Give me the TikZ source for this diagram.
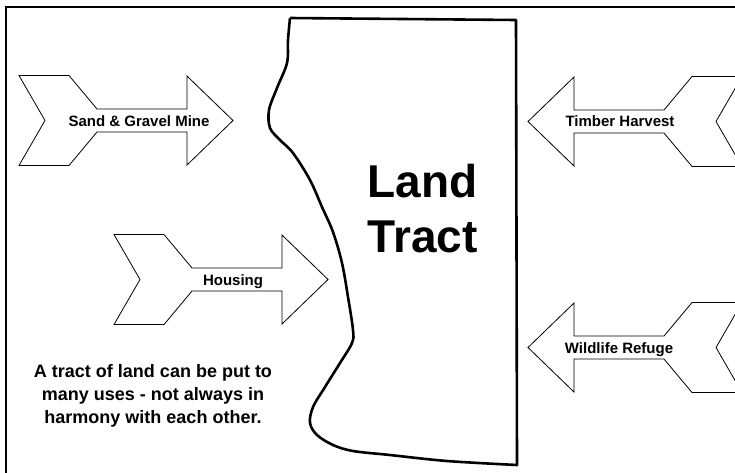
\documentclass[tikz,border=0pt]{standalone}
\usepackage{fontspec}
\setmainfont{Liberation Sans}
\tikzset{
  usearrow/.style={draw=black, line width=0.8pt, fill=white, line join=miter},
  usearrowshape/.pic={\draw[usearrow] (0,-45) -- (50,-45) -- (78,-11.5) -- (168,-11.5) -- (168,-44.5) -- (214,0) -- (168,44.5) -- (168,11.5) -- (78,11.5) -- (50,45) -- (0,45) -- (26,0) -- cycle;},
  tractline/.style={line width=2.6pt, line join=round},
  framebox/.style={line width=2pt},
  lbl/.style={font=\bfseries\fontsize{15}{18}\selectfont, anchor=base, inner sep=0pt},
  bigtitle/.style={font=\bfseries\fontsize{46}{55}\selectfont, align=center, inner sep=0pt},
  note/.style={font=\bfseries\fontsize{18}{23}\selectfont, align=center, inner sep=0pt}
}
\begin{document}
\begin{tikzpicture}[x=1pt,y=-1pt]
\useasboundingbox (0,0) rectangle (735,472);
\clip (0,0) rectangle (735,472);
\draw[framebox] (6,480) -- (6,7) -- (745,7);
% land tract outline
\draw[tractline] (290,18) -- (516,20) -- (517,465) -- plot[smooth, tension=0.55] coordinates {(517,465) (447,461) (390,455) (353,451) (333,445) (317,435) (310,423) (313,407) (325,387) (340,363) (352,343) (353,330) (348,297) (342,263) (333,232) (322,207) (310,180) (293,153) (280,140) (270,128) (269,110) (277,88) (287,63) (288,40) (290,18)};
% arrows
\pic at (19,120.5) {usearrowshape};
\pic at (114,279.5) {usearrowshape};
\pic[xscale=-1] at (742,121.5) {usearrowshape};
\pic[xscale=-1] at (742,347.5) {usearrowshape};
% labels
\node[lbl] (sand) at (139,126) {Sand \& Gravel Mine};
\node[lbl] (housing) at (233,285) {Housing};
\node[lbl] (timber) at (620,126.5) {Timber Harvest};
\node[lbl] (wildlife) at (619,353) {Wildlife Refuge};
\node[bigtitle] (tract) at (422.5,209) {Land\\Tract};
\node[note] (usenote) at (153,396) {A tract of land can be put to\\many uses - not always in\\harmony with each other.};
\end{tikzpicture}
\end{document}
